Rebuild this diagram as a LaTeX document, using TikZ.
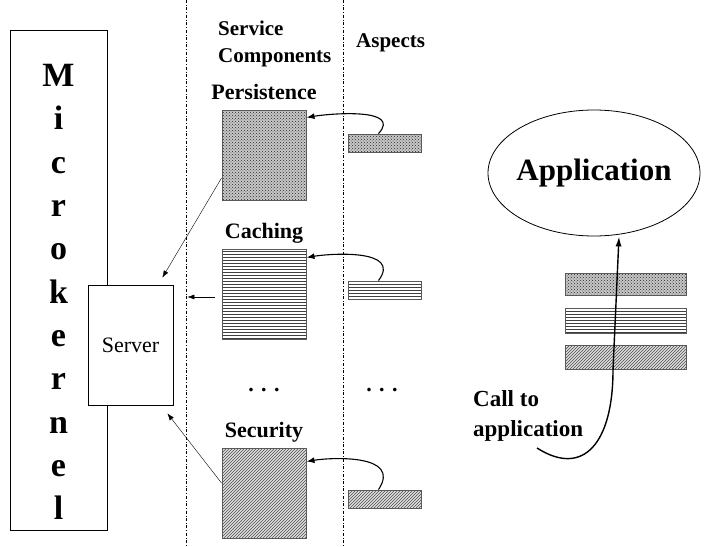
\documentclass[tikz,border=0pt]{standalone}
\usepackage{fontspec}
\setmainfont{Liberation Serif}
\usetikzlibrary{arrows.meta,positioning,shapes.geometric,patterns,calc}

\begin{document}
\begin{tikzpicture}[x=1pt,y=-1pt,
lbl/.style={font=\fontsize{22}{26}\selectfont\bfseries,inner sep=0pt,text depth=0pt},
comp/.style={draw=black!65,line width=1pt,minimum width=84pt,minimum height=90pt,inner sep=0pt},
aspbox/.style={draw=black!65,line width=0.9pt,minimum width=73pt,minimum height=18pt,inner sep=0pt},
stkbox/.style={draw=black!65,line width=0.9pt,minimum width=121pt,inner sep=0pt},
persfill/.style={preaction={fill=black!22},pattern=crosshatch dots,pattern color=black!85},
cachfill/.style={pattern=horizontal lines,pattern color=black!75},
secfill/.style={preaction={fill=black!12},pattern=north east lines,pattern color=black!70},
sep/.style={dash dot,thin},
sarr/.style={-{Latex[length=7pt,width=5pt]},thin},
carr/.style={-{Latex[length=8pt,width=6pt]},line width=1.1pt},
barr/.style={-{Latex[length=10pt,width=6pt]},line width=1.4pt}]
\useasboundingbox (0,0) rectangle (706,546);

% columns
\draw[sep] (186,0) -- (186,546);
\draw[sep] (343,0) -- (343,546);

% microkernel and server
\node[draw,line width=0.8pt,minimum width=97pt,minimum height=500pt] (mk) at (58.5,280) {};
\node[font=\fontsize{34}{43.3}\selectfont\bfseries,align=center] (mktext) at (58.5,292)
  {M\\i\\c\\r\\o\\k\\e\\r\\n\\e\\l};
\node[draw,fill=white,line width=0.8pt,minimum width=85pt,minimum height=120pt,
  font=\fontsize{22}{26}\selectfont] (server) at (130.5,345) {Server};

% headers
\node[lbl,align=left,anchor=north west,font=\fontsize{21}{27}\selectfont\bfseries] (svchead) at (218,21) {Service\\Components};
\node[lbl,anchor=base west,font=\fontsize{21}{26}\selectfont\bfseries] (asphead) at (356,47) {Aspects};

% service components
\node[comp,persfill] (persist) at (264,155) {};
\node[comp,cachfill] (caching) at (264,294) {};
\node[comp,secfill] (security) at (264,493) {};
\node[lbl,above=10pt of persist] (persistlbl) {Persistence};
\node[lbl,above=10pt of caching] (cachinglbl) {Caching};
\node[lbl,above=10pt of security] (securitylbl) {Security};
\node[lbl] (dotsA) at (264,390) {.\,\,.\,\,.};

% aspects
\node[aspbox,persfill] (aspP) at (384.5,143) {};
\node[aspbox,cachfill] (aspC) at (384.5,290) {};
\node[aspbox,secfill] (aspS) at (384.5,499) {};
\node[lbl] (dotsB) at (382,390) {.\,\,.\,\,.};

\draw[carr] ([xshift=-6pt]aspP.north) .. controls +(24,-26) and +(24,-4) .. ([yshift=-8pt]persist.north east);
\draw[carr] ([xshift=-6pt]aspC.north) .. controls +(24,-32) and +(24,-4) .. ([yshift=-9pt]caching.north east);
\draw[carr] ([xshift=-6pt]aspS.north) .. controls +(24,-36) and +(24,-4) .. ([yshift=-14pt]security.north east);

% links to server
\draw[sarr] ([yshift=-23pt]persist.west) -- ([xshift=-11pt,yshift=7pt]server.north east);
\draw[sarr] ([xshift=-7pt,yshift=-3pt]caching.west) -- ($(server.east |- caching.west)+(14,3)$);
\draw[sarr] ([yshift=10pt]security.west) -- ([xshift=-6pt,yshift=-8pt]server.south east);

% application side
\node[draw,ellipse,line width=0.8pt,inner xsep=-4pt,minimum width=212pt,minimum height=126pt,
  font=\fontsize{31}{36}\selectfont\bfseries] (app) at (594,173) {Application};
\node[stkbox,persfill,minimum height=22pt] (stkP) at (625.5,284) {};
\node[stkbox,cachfill,minimum height=25pt] (stkC) at (625.5,320.5) {};
\node[stkbox,secfill,minimum height=24pt] (stkS) at (625.5,357) {};
\node[lbl,align=left,anchor=west,font=\fontsize{23}{30}\selectfont\bfseries] (calltxt) at (473,414) {Call to\\application};
\coordinate (callstart) at (537,448);
\draw[barr] (callstart) .. controls (584,478) and (613,442) .. (613,370) -- ([xshift=25pt]app.south);
\end{tikzpicture}
\end{document}
